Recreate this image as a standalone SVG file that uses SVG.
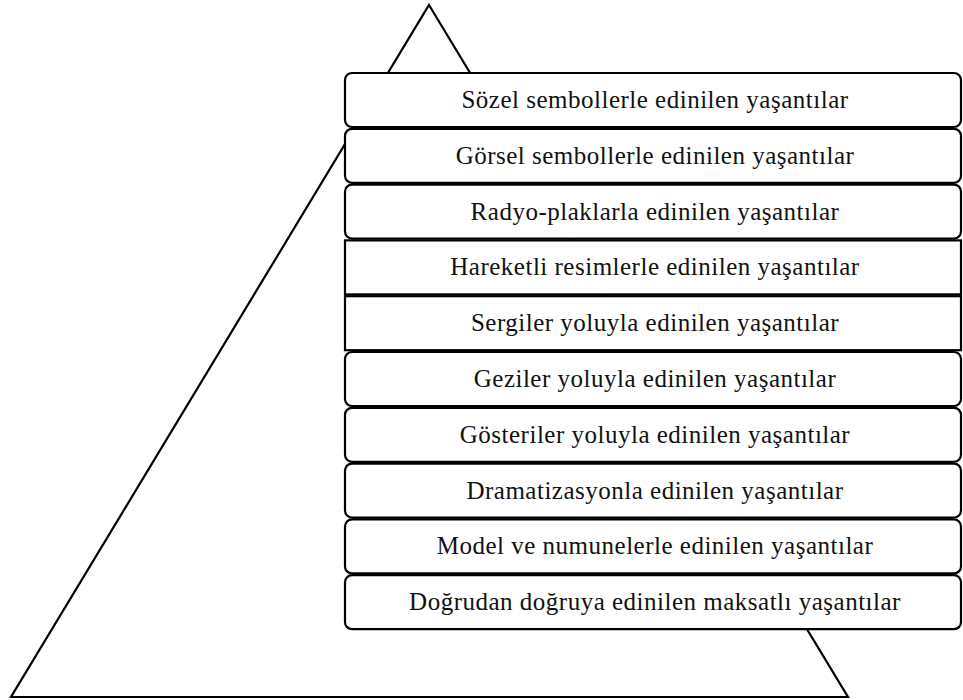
<svg xmlns="http://www.w3.org/2000/svg" width="963" height="700" viewBox="0 0 963 700">
  <style>
    .bg { fill: #ffffff; }
    .tri { fill: none; stroke: #000; stroke-width: 2.2; stroke-linejoin: miter; }
    .box { fill: #ffffff; stroke: #000; stroke-width: 2.2; }
    .lbl { font-family: "Liberation Serif", "Times New Roman", serif; font-size: 25px; fill: #111; text-anchor: middle; letter-spacing: 0.5px; }
  </style>
  <rect class="bg" x="0" y="0" width="963" height="700"/>

  <!-- pyramid outline behind the level boxes -->
  <g id="pyramid">
    <polygon class="tri" points="429,5 848,697 11,697"/>
  </g>

  <!-- levels, top to bottom -->
  <g id="level1">
    <rect class="box" x="345" y="73" width="616" height="54" rx="7"/>
    <text class="lbl" x="655" y="108">Sözel sembollerle edinilen yaşantılar</text>
  </g>
  <g id="level2">
    <rect class="box" x="345" y="128.8" width="616" height="54" rx="7"/>
    <text class="lbl" x="655" y="163.8">Görsel sembollerle edinilen yaşantılar</text>
  </g>
  <g id="level3">
    <rect class="box" x="345" y="184.6" width="616" height="54" rx="7"/>
    <text class="lbl" x="655" y="219.6">Radyo-plaklarla edinilen yaşantılar</text>
  </g>
  <g id="level4">
    <rect class="box" x="345" y="240.4" width="616" height="54"/>
    <text class="lbl" x="655" y="275.4">Hareketli resimlerle edinilen yaşantılar</text>
  </g>
  <g id="level5">
    <rect class="box" x="345" y="296.2" width="616" height="54"/>
    <text class="lbl" x="655" y="331.2">Sergiler yoluyla edinilen yaşantılar</text>
  </g>
  <g id="level6">
    <rect class="box" x="345" y="352" width="616" height="54" rx="7"/>
    <text class="lbl" x="655" y="387">Geziler yoluyla edinilen yaşantılar</text>
  </g>
  <g id="level7">
    <rect class="box" x="345" y="407.8" width="616" height="54" rx="7"/>
    <text class="lbl" x="655" y="442.8">Gösteriler yoluyla edinilen yaşantılar</text>
  </g>
  <g id="level8">
    <rect class="box" x="345" y="463.6" width="616" height="54" rx="7"/>
    <text class="lbl" x="655" y="498.6">Dramatizasyonla edinilen yaşantılar</text>
  </g>
  <g id="level9">
    <rect class="box" x="345" y="519.4" width="616" height="54" rx="7"/>
    <text class="lbl" x="655" y="554.4">Model ve numunelerle edinilen yaşantılar</text>
  </g>
  <g id="level10">
    <rect class="box" x="345" y="575.2" width="616" height="54" rx="7"/>
    <text class="lbl" x="655" y="610.2">Doğrudan doğruya edinilen maksatlı yaşantılar</text>
  </g>

  <g id="connectors"></g>
</svg>
